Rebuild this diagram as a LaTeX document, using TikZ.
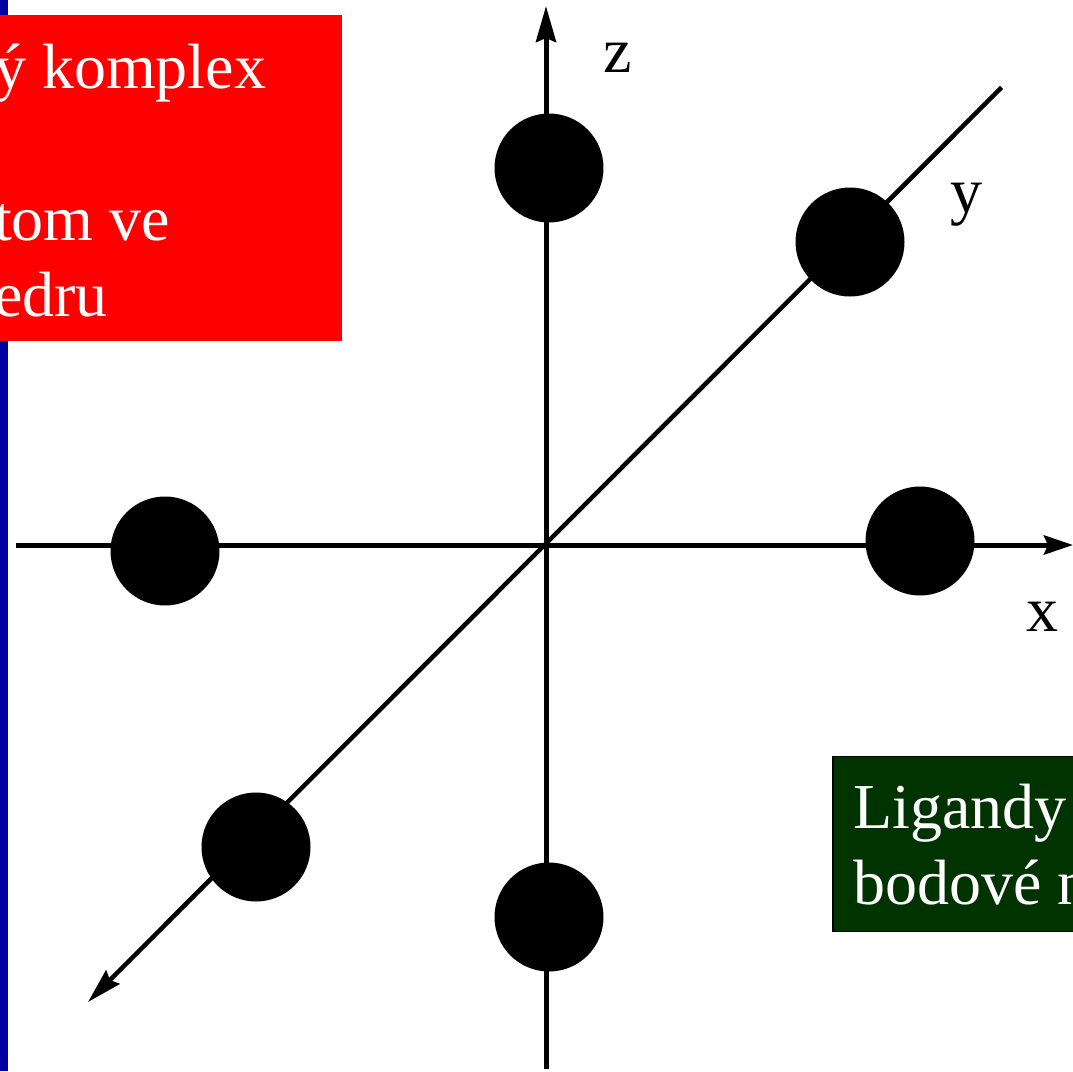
\documentclass[tikz,border=0pt]{standalone}
\usepackage{fontspec}
\setmainfont{Liberation Serif}
\usetikzlibrary{arrows.meta}
\definecolor{barblue}{HTML}{0000A0}
\definecolor{boxgreen}{HTML}{003300}
\tikzset{
  axis/.style={line width=5pt,black},
  diag/.style={line width=4.5pt,black},
  tipz/.style={-{Stealth[length=36pt,width=20pt,inset=4pt]}},
  tipx/.style={-{Stealth[length=29pt,width=19pt,inset=4pt]}},
  tipd/.style={-{Stealth[length=35pt,width=19pt,inset=4pt]}},
  ligand/.style={circle,fill=black,inner sep=0pt,minimum size=109pt},
  lbl/.style={anchor=base west,inner sep=0pt,font=\fontsize{64}{76}\selectfont},
  boxtxt/.style={lbl,text=white},
}
\begin{document}
\begin{tikzpicture}[x=1pt,y=-1pt]
\useasboundingbox (0,0) rectangle (1073,1071);
\fill[white] (0,0) rectangle (1073,1071);
\node[fill=barblue,inner sep=0pt,minimum width=8pt,minimum height=1071pt,anchor=north west] (bar) at (0,0) {};
\node[fill=red,inner sep=0pt,minimum width=342pt,minimum height=326pt,anchor=north west] (redbox) at (0,15) {};
\node[fill=boxgreen,draw=black,line width=1.5pt,inner sep=0pt,minimum width=260pt,minimum height=175pt,anchor=north west] (greenbox) at (832,755.5) {};
\node[boxtxt] (t1) at (-6,88) {ý komplex};
\node[boxtxt] (t2) at (-6,240) {tom ve};
\node[boxtxt] (t3) at (-6,316) {edru};
\node[boxtxt] (t4) at (853,828) {Ligandy};
\node[boxtxt] (t5) at (853,904) {bodové n};
\coordinate (xa) at (16,545);
\coordinate (xb) at (1073,545);
\coordinate (za) at (546,1069);
\coordinate (zb) at (546,6);
\coordinate (ya) at (1001.5,87.5);
\coordinate (yb) at (88,1002);
\draw[axis,tipx] (xa) -- (xb);
\draw[axis,tipz] (za) -- (zb);
\draw[diag,tipd] (ya) -- (yb);
\node[ligand] (l1) at (549,168) {};
\node[ligand] (l2) at (850,242) {};
\node[ligand] (l3) at (165,551) {};
\node[ligand] (l4) at (920,541) {};
\node[ligand] (l5) at (256,847) {};
\node[ligand] (l6) at (549,917) {};
\node[lbl] (lz) at (603,72) {z};
\node[lbl] (ly) at (950,212) {y};
\node[lbl] (lx) at (1026,631) {x};
\end{tikzpicture}
\end{document}
